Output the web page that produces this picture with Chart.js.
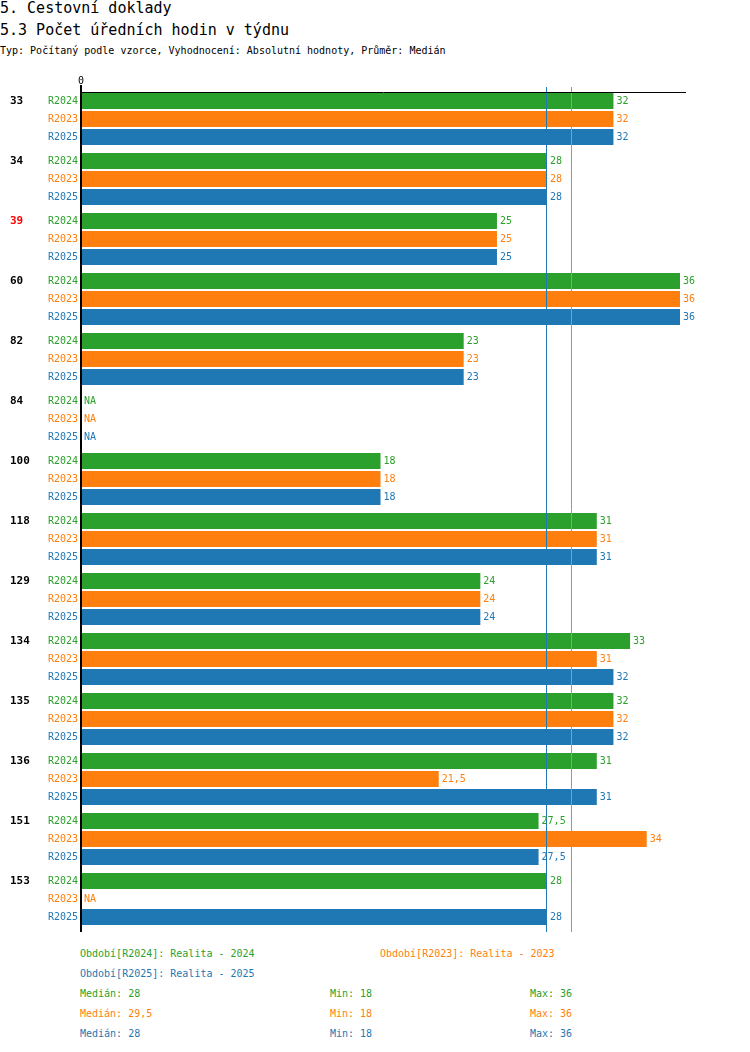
<!DOCTYPE html>
<html>
<head>
<meta charset="utf-8">
<title>5.3 Počet úředních hodin v týdnu</title>
<script src="https://cdn.jsdelivr.net/npm/chart.js"></script>
<style>
    body { margin: 0; width: 750px; height: 1052px; position: relative; background: #fff; font-family: "DejaVu Sans Mono", monospace; overflow: hidden; }
    .txt { position: absolute; white-space: pre; }
    .h1 { font-size: 15px; line-height: 17px; left: 0; font-weight: normal; color: #000; }
    .small { font-size: 10px; line-height: 12px; }
    #chart { position: absolute; left: 0; top: 0; }
</style>
</head>
<body>
    <div class="txt h1" style="top:0px">5. Cestovní doklady</div>
    <div class="txt h1" style="top:22px">5.3 Počet úředních hodin v týdnu</div>
    <div class="txt small" style="top:45px;left:0">Typ: Počítaný podle vzorce, Vyhodnocení: Absolutní hodnoty, Průměr: Medián</div>
    <canvas id="chart" width="750" height="940"></canvas>
    <div id="legend"></div>

    <script>
        // data
        const groups = ['33', '34', '39', '60', '82', '84', '100', '118', '129', '134', '135', '136', '151', '153'];
        const highlighted = ['39'];
        const seriesNames = ['R2024', 'R2023', 'R2025'];
        const periodLabels = ['Realita - 2024', 'Realita - 2023', 'Realita - 2025'];
        const seriesColors = ['#2ca02c', '#ff7f0e', '#1f77b4'];
        const r2024 = [32, 28, 25, 36, 23, null, 18, 31, 24, 33, 32, 31, 27.5, 28];
        const r2023 = [32, 28, 25, 36, 23, null, 18, 31, 24, 31, 32, 21.5, 34, null];
        const r2025 = [32, 28, 25, 36, 23, null, 18, 31, 24, 32, 32, 31, 27.5, 28];
        const xTicks = [0];
        const seriesValues = [r2024, r2023, r2025];

        const fmt = v => String(v).replace('.', ',');

        function stats(arr) {
            const v = arr.filter(x => x !== null).sort((a, b) => a - b);
            const n = v.length;
            const med = n % 2 ? v[(n - 1) / 2] : (v[n / 2 - 1] + v[n / 2]) / 2;
            return { median: med, min: v[0], max: v[n - 1] };
        }
        const seriesStats = seriesValues.map(stats);

        const overlay = {
            id: 'overlay',
            afterDatasetsDraw(chart) {
                const ctx = chart.ctx;
                const area = chart.chartArea;
                const xs = chart.scales.x;
                const x0 = xs.getPixelForValue(0);
                ctx.save();

                // median lines
                seriesStats.forEach((s, i) => {
                    const x = Math.floor(xs.getPixelForValue(s.median)) + 0.5;
                    ctx.strokeStyle = seriesColors[i];
                    ctx.lineWidth = 1;
                    ctx.beginPath();
                    ctx.moveTo(x, area.top - 2);
                    ctx.lineTo(x, area.bottom + 3);
                    ctx.stroke();
                });

                // axes
                ctx.strokeStyle = '#000';
                ctx.lineWidth = 1;
                ctx.beginPath();
                ctx.moveTo(x0, area.top + 3.5);
                ctx.lineTo(area.right + 6, area.top + 3.5);
                ctx.stroke();
                ctx.lineWidth = 2;
                ctx.beginPath();
                ctx.moveTo(x0, area.top - 4);
                ctx.lineTo(x0, area.bottom + 3);
                ctx.stroke();

                ctx.font = '10px "DejaVu Sans Mono"';
                ctx.textBaseline = 'middle';
                ctx.textAlign = 'center';
                ctx.fillStyle = '#000';
                xTicks.forEach(t => ctx.fillText(String(t), xs.getPixelForValue(t), area.top - 8));

                // bar labels
                seriesValues.forEach((vals, si) => {
                    const meta = chart.getDatasetMeta(si);
                    meta.data.forEach((bar, i) => {
                        const y = bar.y;
                        ctx.font = '10px "DejaVu Sans Mono"';
                        ctx.fillStyle = seriesColors[si];
                        ctx.textAlign = 'right';
                        ctx.fillText(seriesNames[si], x0 - 3, y);
                        ctx.textAlign = 'left';
                        if (vals[i] === null) {
                            ctx.fillText('NA', x0 + 3, y);
                        } else {
                            ctx.fillText(fmt(vals[i]), xs.getPixelForValue(vals[i]) + 3, y);
                        }
                        if (si === 0) {
                            ctx.font = 'bold 11px "DejaVu Sans Mono"';
                            ctx.fillStyle = highlighted.includes(groups[i]) ? '#ff0000' : '#000';
                            ctx.fillText(groups[i], 10, y);
                        }
                    });
                });
                ctx.restore();
            }
        };

        new Chart(document.getElementById('chart'), {
            type: 'bar',
            data: {
                labels: groups,
                datasets: seriesValues.map((vals, i) => ({
                    label: seriesNames[i],
                    data: vals,
                    backgroundColor: seriesColors[i],
                    borderWidth: 0,
                    barPercentage: 16 / 18,
                    categoryPercentage: 0.9
                }))
            },
            options: {
                indexAxis: 'y',
                responsive: false,
                animation: false,
                layout: { padding: { left: 81, right: 70, top: 89, bottom: 11 } },
                scales: {
                    x: { display: false, min: 0, max: 36 },
                    y: { display: false }
                },
                plugins: { legend: { display: false }, tooltip: { enabled: false } }
            },
            plugins: [overlay]
        });

        // legend and stats below the chart
        const legend = document.getElementById('legend');
        function addText(text, left, centerY, color) {
            const d = document.createElement('div');
            d.className = 'txt small';
            d.style.left = left + 'px';
            d.style.top = (centerY - 6) + 'px';
            d.style.color = color;
            d.textContent = text;
            legend.appendChild(d);
        }
        const legendPos = [[80, 954], [380, 954], [80, 974]];
        seriesNames.forEach((s, i) => {
            addText('Období[' + s + ']: ' + periodLabels[i], legendPos[i][0], legendPos[i][1], seriesColors[i]);
        });
        seriesStats.forEach((s, i) => {
            const y = 994 + i * 20;
            addText('Medián: ' + fmt(s.median), 80, y, seriesColors[i]);
            addText('Min: ' + fmt(s.min), 330, y, seriesColors[i]);
            addText('Max: ' + fmt(s.max), 530, y, seriesColors[i]);
        });
    </script>
</body>
</html>
